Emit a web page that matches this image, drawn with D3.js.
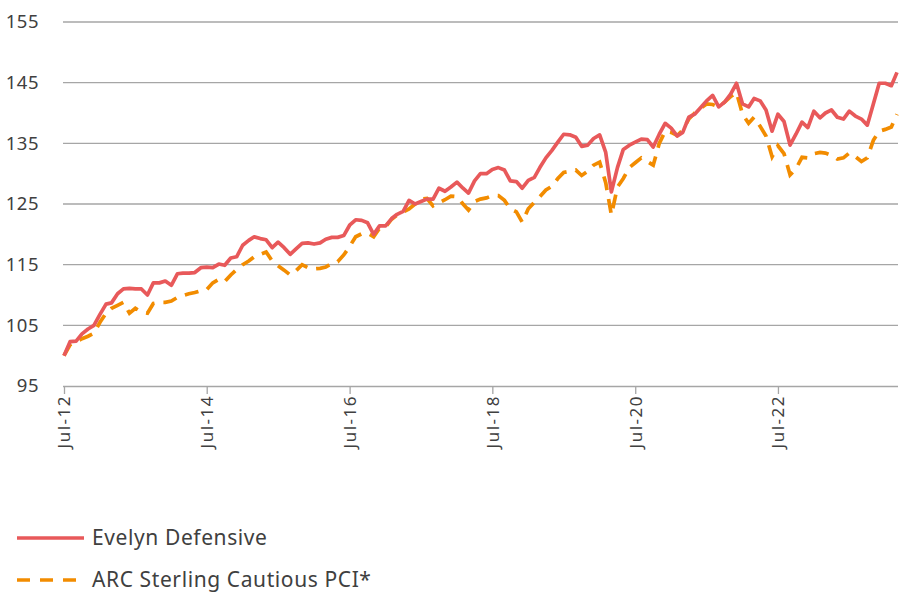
<!DOCTYPE html>
<html><head><meta charset="utf-8">
<script src="https://cdn.jsdelivr.net/npm/d3@7"></script>
<style>
body{margin:0;background:#fff;}
svg text{font-family:"Noto Sans",Lato,sans-serif;fill:#404040;}
</style></head>
<body><svg id="c" width="908" height="593"></svg>
<script>
const startMonth = "2012-07";
const evelyn = [100.0,102.3,102.4,103.6,104.4,105.0,106.8,108.5,108.7,110.2,111.0,111.1,111.0,111.0,110.0,112.0,112.0,112.3,111.6,113.5,113.6,113.6,113.7,114.5,114.6,
114.5,115.1,114.9,116.1,116.3,118.2,119.0,119.6,119.3,119.1,117.8,118.7,117.8,116.7,117.6,118.5,118.6,118.4,118.6,119.2,119.5,119.5,119.8,121.5,122.4,
122.3,121.9,120.0,121.4,121.4,122.6,123.3,123.8,125.6,125.0,125.4,125.8,125.8,127.6,127.1,127.8,128.6,127.6,126.8,128.8,130.0,130.0,130.7,131.0,130.6,
128.8,128.7,127.6,128.9,129.4,131.0,132.6,133.8,135.2,136.5,136.4,136.0,134.5,134.7,135.8,136.4,133.5,127.0,131.0,134.0,134.7,135.2,135.7,135.6,134.4,
136.5,138.3,137.5,136.2,136.8,139.3,139.8,140.9,142.0,142.9,141.0,141.8,143.1,144.9,141.5,141.0,142.4,142.0,140.5,137.0,139.8,138.6,134.7,136.5,138.5,
137.6,140.3,139.2,140.0,140.5,139.3,139.0,140.3,139.5,139.0,138.0,141.5,144.9,144.9,144.5,146.7];
const arc = [100.0,101.8,102.3,102.8,103.2,103.7,105.5,107.0,107.8,108.3,108.8,107.0,107.8,107.2,107.0,108.6,108.8,108.8,109.0,109.6,109.9,110.2,110.4,110.7,110.9,
112.0,112.6,112.2,113.3,114.2,115.0,115.6,116.3,116.7,117.1,115.6,114.8,114.1,113.3,114.0,115.0,114.5,114.3,114.4,114.6,115.2,115.5,116.6,118.0,119.6,
120.1,120.2,119.6,121.0,121.2,122.5,123.2,123.7,124.2,125.0,125.8,125.9,124.7,125.2,125.7,126.3,126.2,125.0,124.0,125.4,125.8,126.0,126.4,126.4,125.6,
124.2,123.7,122.0,124.2,125.3,126.2,127.3,127.9,129.2,130.2,130.4,130.6,129.7,130.4,131.4,131.9,128.5,123.2,127.8,129.2,131.0,131.8,132.6,132.0,131.4,
135.0,137.0,136.8,136.3,137.2,139.0,140.0,140.8,141.5,141.4,141.0,141.8,142.7,143.4,139.8,138.3,139.3,137.8,136.2,132.8,134.6,133.3,129.8,130.8,132.7,
132.6,133.3,133.5,133.4,133.0,132.4,132.6,133.4,132.8,132.0,132.6,135.5,137.0,137.3,137.7,139.8];
const yTicks = [95,105,115,125,135,145,155];
const xTickLabels = ["Jul-12","Jul-14","Jul-16","Jul-18","Jul-20","Jul-22"];
const seriesNames = ["Evelyn Defensive","ARC Sterling Cautious PCI*"];

const parse = d3.timeParse("%Y-%m");
const t0 = parse(startMonth);
const dates = evelyn.map((_,i)=>d3.timeMonth.offset(t0,i));
const xTickDates = xTickLabels.map((_,i)=>d3.timeMonth.offset(t0,i*24));

const svg = d3.select("#c");
const x = d3.scaleTime().domain([t0, d3.timeMonth.offset(t0,140)]).range([64,897]);
const y = d3.scaleLinear().domain([95,155]).range([386,22]);

// gridlines
svg.append("g").selectAll("line").data(yTicks.slice(1)).join("line")
  .attr("x1",63).attr("x2",898).attr("y1",d=>y(d)).attr("y2",d=>y(d))
  .attr("stroke","#a6a6a6").attr("stroke-width",1.3);

// y labels
svg.append("g").selectAll("text").data(yTicks).join("text")
  .attr("x",39).attr("y",d=>y(d)).attr("dy","0.35em").attr("text-anchor","end")
  .style("font-size","18.5px").style("letter-spacing","0.5px").text(d=>d);

// x axis
const xAxis = d3.axisBottom(x).tickValues(xTickDates).tickSize(8)
  .tickFormat((d,i)=>xTickLabels[i]);
const gx = svg.append("g").attr("transform","translate(0,386)").call(xAxis);
gx.select(".domain").attr("stroke","#a6a6a6").attr("stroke-width",1.3).attr("d","M63,0.5H898");
gx.selectAll(".tick line").attr("stroke","#a6a6a6").attr("stroke-width",1.3);
gx.selectAll(".tick text").attr("transform","rotate(-90)").attr("x",-9).attr("y",0)
  .attr("dy","0.35em").attr("text-anchor","end").style("font-size","17px")
  .style("letter-spacing","1.5px").attr("fill","#404040");

const line = d3.line().x((d,i)=>x(dates[i])).y(d=>y(d));
svg.append("path").datum(arc).attr("d",line).attr("fill","none")
  .attr("stroke","#f28c00").attr("stroke-width",3.7).attr("stroke-dasharray","14,9");
svg.append("path").datum(evelyn).attr("d",line).attr("fill","none")
  .attr("stroke","#e8595a").attr("stroke-width",3.7).attr("stroke-linejoin","round");

// legend
const lg = svg.append("g");
lg.append("line").attr("x1",17).attr("x2",84).attr("y1",538).attr("y2",538)
  .attr("stroke","#e8595a").attr("stroke-width",3.7);
lg.append("text").attr("x",92).attr("y",538).attr("dy","0.35em").style("font-size","21px")
  .style("letter-spacing","0.6px").text(seriesNames[0]);
lg.append("line").attr("x1",17).attr("x2",84).attr("y1",580).attr("y2",580)
  .attr("stroke","#f28c00").attr("stroke-width",3.7).attr("stroke-dasharray","13,10");
lg.append("text").attr("x",92).attr("y",580).attr("dy","0.35em").style("font-size","21px")
  .style("letter-spacing","0.6px").text(seriesNames[1]);
</script></body></html>
